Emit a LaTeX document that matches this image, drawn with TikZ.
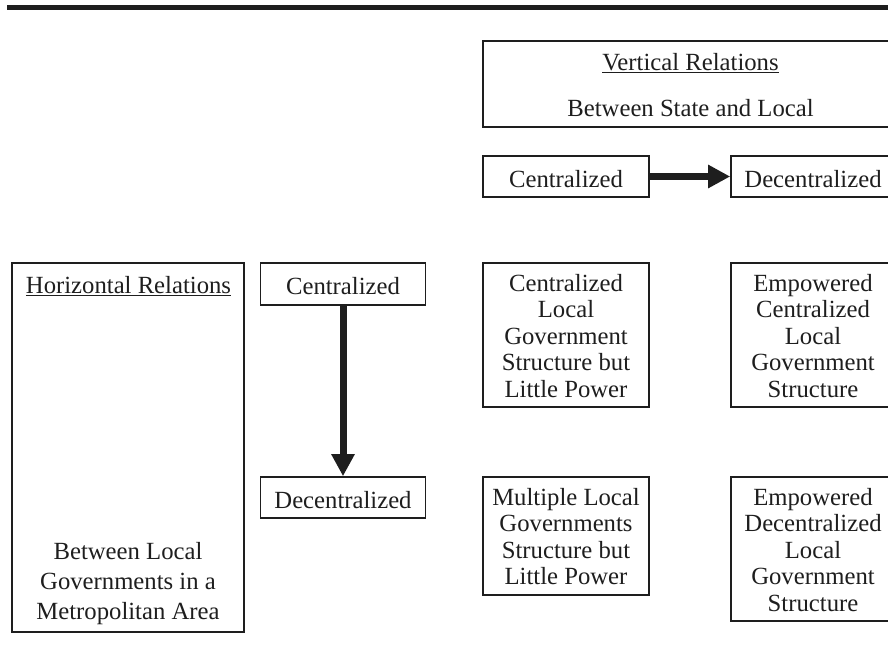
\documentclass[tikz,border=0pt]{standalone}
\usepackage{fontspec}
\setmainfont{Liberation Serif}
\usetikzlibrary{arrows.meta}
\definecolor{ink}{HTML}{1E1E1E}
\begin{document}
\begin{tikzpicture}[x=1pt,y=-1pt,
  every node/.style={text=ink,font=\fontsize{24.7}{26.5}\selectfont},
  box/.style={draw=ink,line width=1.6pt,inner sep=0pt,align=center},
  onebox/.style={box,text height=21pt,text depth=0pt},
  label/.style={inner sep=0pt,align=center},
  bigarrow/.style={draw=ink,line width=7pt,-{Triangle[length=22pt,width=22pt]}}]
\useasboundingbox (0,0) rectangle (888,664);
\clip (0,0) rectangle (888,664);
% heading rule
\fill[ink] (7,5) rectangle (890,10);

% vertical relations (state and local)
\node[box,minimum width=414pt,minimum height=86pt] (vr) at (690,84) {};
\node[label] (vrT) at (690.5,63.5) {\underline{Vertical Relations}};
\node[label] (vrB) at (690.5,108) {Between State and Local};
\node[onebox,minimum width=166pt,minimum height=41pt] (cTop) at (566,176.5) {Centralized};
\node[onebox,minimum width=164pt,minimum height=41pt] (dTop) at (813,176.5) {Decentralized};
\draw[bigarrow] (cTop.east) -- (dTop.west);

% horizontal relations (within a metropolitan area)
\node[box,minimum width=232pt,minimum height=369pt] (hr) at (128,447.5) {};
\node[label] (hrT) at (128.5,286) {\underline{Horizontal Relations}};
\node[label,font=\fontsize{24.7}{30}\selectfont] (hrB) at (128,584)
  {Between Local\\Governments in a\\Metropolitan Area};
\node[onebox,minimum width=165pt,minimum height=42pt] (cL) at (343,284) {Centralized};
\node[onebox,minimum width=165pt,minimum height=41pt] (dL) at (343,497.5) {Decentralized};
\draw[bigarrow] (cL.south) -- (dL.north);

% the four combinations
\node[box,minimum width=166pt,minimum height=144pt] (cc) at (566,335)
  {\strut Centralized\\Local\\Government\\Structure but\\Little Power};
\node[box,minimum width=164pt,minimum height=144pt] (ec) at (813,335)
  {\strut Empowered\\Centralized\\Local\\Government\\Structure};
\node[box,minimum width=166pt,minimum height=118pt] (ml) at (566,536)
  {\strut Multiple Local\\Governments\\Structure but\\Little Power};
\node[box,minimum width=164pt,minimum height=144pt] (ed) at (813,549)
  {\strut Empowered\\Decentralized\\Local\\Government\\Structure};
\end{tikzpicture}
\end{document}
